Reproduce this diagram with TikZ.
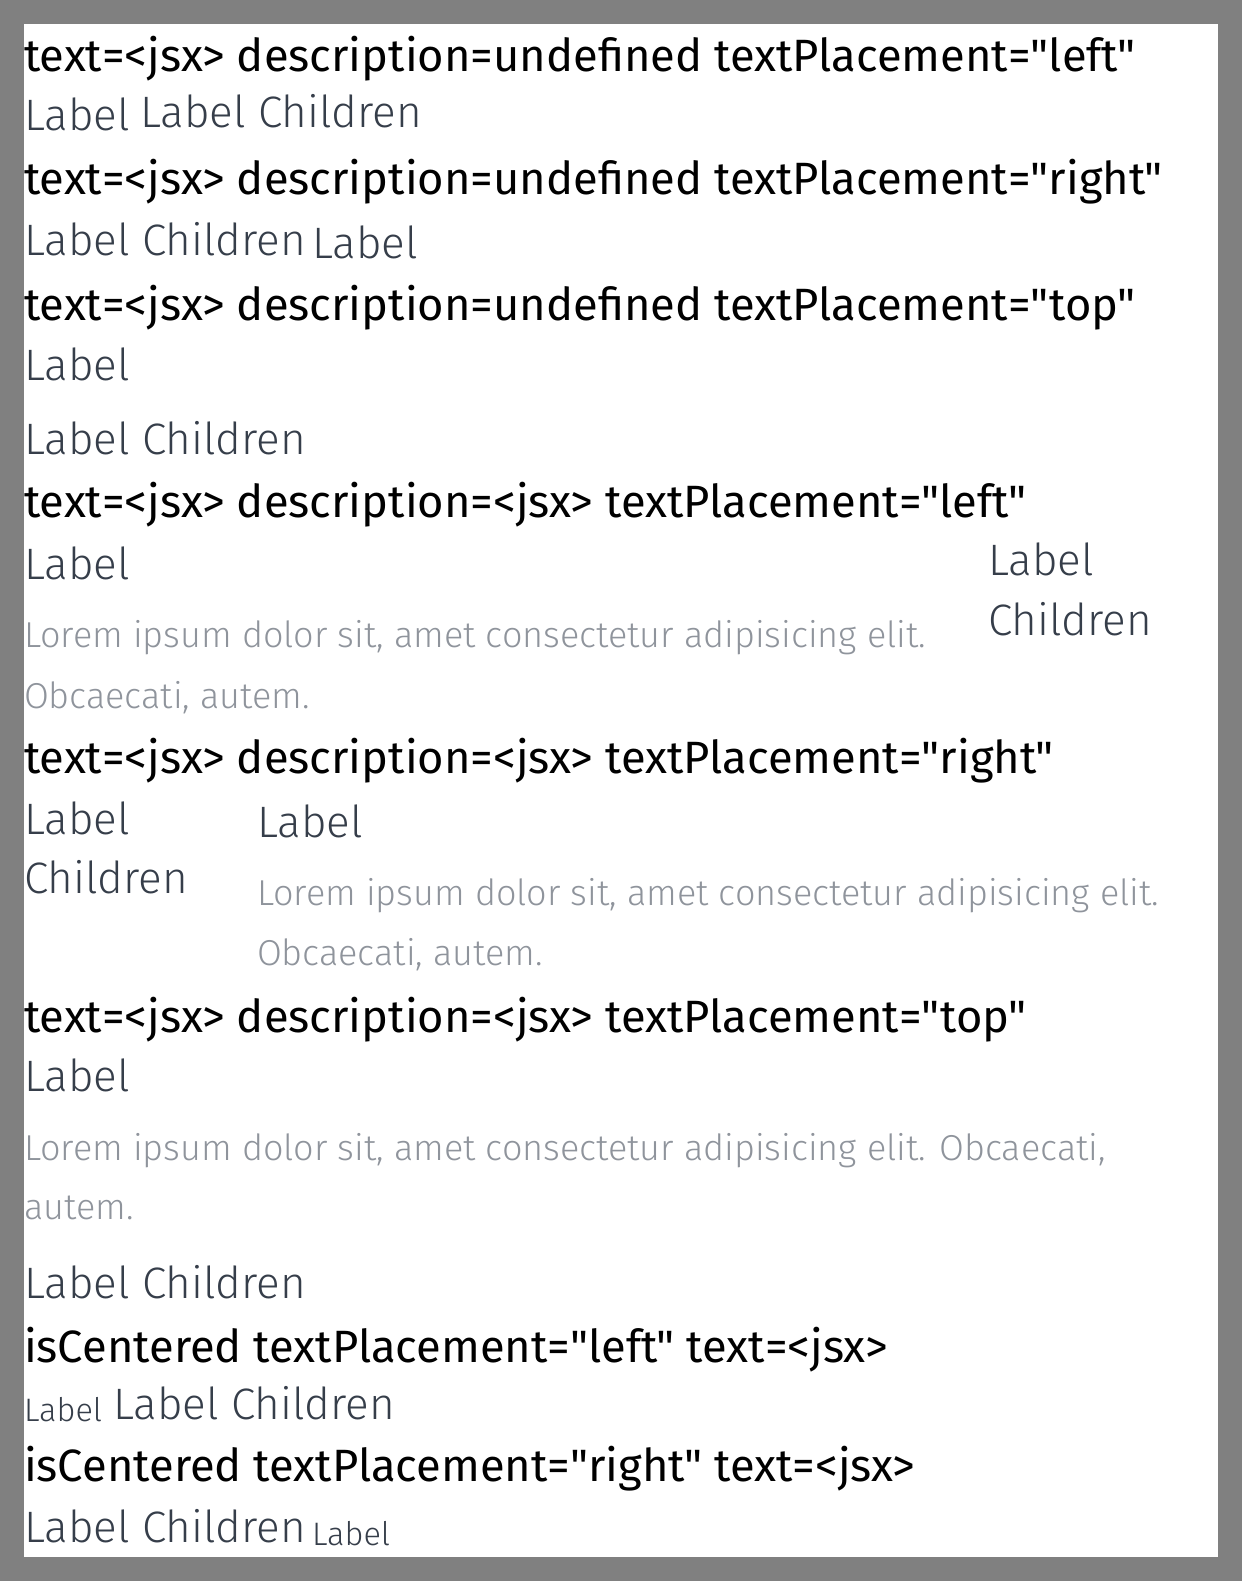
\documentclass[tikz,border=0pt]{standalone}
\usepackage{fontspec}
\setmainfont{Fira Sans}[Ligatures=TeXOff]
\newfontfamily\lightfont{Fira Sans Light}[Ligatures=TeXOff]
\usetikzlibrary{positioning}
\definecolor{labelgray}{HTML}{363E4A}
\definecolor{descgray}{HTML}{8F949C}
\definecolor{framegray}{HTML}{808080}
\newcommand{\dq}{\symbol{"22}}
\tikzset{
  txt/.style={anchor=base west, inner sep=0pt, outer sep=0pt},
  heading/.style={txt, text=black, font=\fontsize{45.3}{54}\selectfont},
  lbl/.style={txt, text=labelgray, font=\lightfont\fontsize{44}{52}\selectfont},
  smalllbl/.style={txt, text=labelgray, font=\lightfont\fontsize{32.5}{38}\selectfont},
  desc/.style={txt, text=descgray, font=\lightfont\fontsize{36}{42}\selectfont}
}

\begin{document}
\begin{tikzpicture}[x=1pt, y=-1pt]
\useasboundingbox (0,0) rectangle (1242,1581);
\fill[framegray] (0,0) rectangle (1242,1581);
\fill[white] (24,24) rectangle (1218,1557);

\node[heading] (h1) at (24,72) {text=<jsx> description=undefined textPlacement=\dq left\dq};
\node[lbl] (l1a) at (24,131) {Label};
\node[lbl] (l1b) at (140,128) {Label Children};

\node[heading] (h2) at (24,194) {text=<jsx> description=undefined textPlacement=\dq right\dq};
\node[lbl] (l2a) at (24,255) {Label Children};
\node[lbl] (l2b) at (312,258) {Label};

\node[heading] (h3) at (24,320) {text=<jsx> description=undefined textPlacement=\dq top\dq};
\node[lbl] (l3a) at (24,380) {Label};
\node[lbl] (l3b) at (24,454) {Label Children};

\node[heading] (h4) at (24,517) {text=<jsx> description=<jsx> textPlacement=\dq left\dq};
\node[lbl] (l4a) at (24,579) {Label};
\node[desc] (d4a) at (24,647) {Lorem ipsum dolor sit, amet consectetur adipisicing elit.};
\node[desc] (d4b) at (24,708) {Obcaecati, autem.};
\node[lbl] (l4b) at (988,575) {Label};
\node[lbl] (l4c) at (988,635) {Children};

\node[heading] (h5) at (24,773) {text=<jsx> description=<jsx> textPlacement=\dq right\dq};
\node[lbl] (l5a) at (24,834) {Label};
\node[lbl] (l5b) at (24,893) {Children};
\node[lbl] (l5c) at (257,837) {Label};
\node[desc] (d5a) at (257,905) {Lorem ipsum dolor sit, amet consectetur adipisicing elit.};
\node[desc] (d5b) at (257,965) {Obcaecati, autem.};

\node[heading] (h6) at (24,1032) {text=<jsx> description=<jsx> textPlacement=\dq top\dq};
\node[lbl] (l6a) at (24,1091) {Label};
\node[desc] (d6a) at (24,1160) {Lorem ipsum dolor sit, amet consectetur adipisicing elit. Obcaecati,};
\node[desc] (d6b) at (24,1219) {autem.};
\node[lbl] (l6b) at (24,1298) {Label Children};

\node[heading] (h7) at (24,1362) {isCentered textPlacement=\dq left\dq{} text=<jsx>};
\node[smalllbl] (l7a) at (24,1421) {Label};
\node[lbl] (l7b) at (113,1419) {Label Children};

\node[heading] (h8) at (24,1481) {isCentered textPlacement=\dq right\dq{} text=<jsx>};
\node[lbl] (l8a) at (24,1542) {Label Children};
\node[smalllbl] (l8b) at (312,1545) {Label};
\end{tikzpicture}
\end{document}
